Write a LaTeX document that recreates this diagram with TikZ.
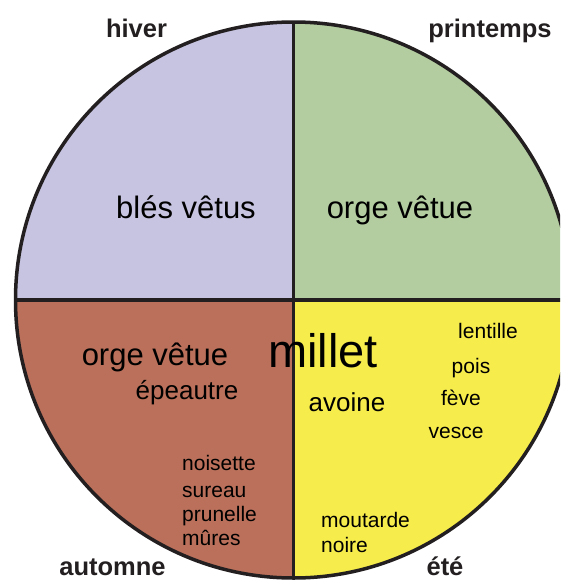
\documentclass[tikz,border=0pt]{standalone}
\usepackage{fontspec}
\setmainfont{Liberation Sans}
\definecolor{hiverc}{RGB}{199,196,225}
\definecolor{printc}{RGB}{179,205,160}
\definecolor{autoc}{RGB}{186,112,90}
\definecolor{etec}{RGB}{246,236,76}
\definecolor{linec}{RGB}{35,31,32}
\tikzset{
  season/.style={anchor=base,inner sep=0pt,font=\fontsize{25.5}{25.5}\selectfont\bfseries,text=linec},
  bigcrop/.style={anchor=base,inner sep=0pt,font=\fontsize{31}{31}\selectfont},
  midcrop/.style={anchor=base,inner sep=0pt,font=\fontsize{26}{26}\selectfont},
  smallcrop/.style={anchor=base,inner sep=0pt,font=\fontsize{21}{21}\selectfont},
  leftcrop/.style={anchor=base west,inner sep=0pt,font=\fontsize{21}{21}\selectfont},
  hugecrop/.style={anchor=base,inner sep=0pt,font=\fontsize{47}{47}\selectfont},
  rim/.style={draw=linec,line width=3.5pt}
}
\begin{document}
\begin{tikzpicture}[x=1pt,y=-1pt]
\useasboundingbox (0,0) rectangle (560,581);
\begin{scope}
\clip (0,0) rectangle (560,581);
\coordinate (c) at (293.5,300);
\begin{scope}
\clip (c) circle[radius=278];
\fill[hiverc] (0,0) rectangle (c);
\fill[printc] (600,0) rectangle (c);
\fill[etec] (600,600) rectangle (c);
\fill[autoc] (0,600) rectangle (c);
\end{scope}
\draw[rim] (c) circle[radius=278];
\draw[rim] ([xshift=-278pt]c) -- ([xshift=278pt]c);
\draw[rim] ([yshift=-278pt]c) -- ([yshift=278pt]c);
\end{scope}
\node[season] (hiver) at (136.5,37) {hiver};
\node[season] (printemps) at (490,37) {printemps};
\node[season] (automne) at (112.5,575) {automne};
\node[season] (ete) at (445,575) {été};
\node[bigcrop] (bles) at (186,218) {blés vêtus};
\node[bigcrop] (orge1) at (400,218) {orge vêtue};
\node[bigcrop] (orge2) at (155,365) {orge vêtue};
\node[midcrop] (epeautre) at (187,399) {épeautre};
\node[hugecrop] (millet) at (323,367) {millet};
\node[midcrop] (avoine) at (347,411) {avoine};
\node[smallcrop] (lentille) at (488,338) {lentille};
\node[smallcrop] (pois) at (471,373) {pois};
\node[smallcrop] (feve) at (461,405) {fève};
\node[smallcrop] (vesce) at (456,438) {vesce};
\node[leftcrop] (noisette) at (182,470) {noisette};
\node[leftcrop] (sureau) at (182,497) {sureau};
\node[leftcrop] (prunelle) at (182,521.5) {prunelle};
\node[leftcrop] (mures) at (182,545) {mûres};
\node[leftcrop] (moutarde) at (321,527) {moutarde};
\node[leftcrop] (noire) at (321,552) {noire};
\end{tikzpicture}
\end{document}
